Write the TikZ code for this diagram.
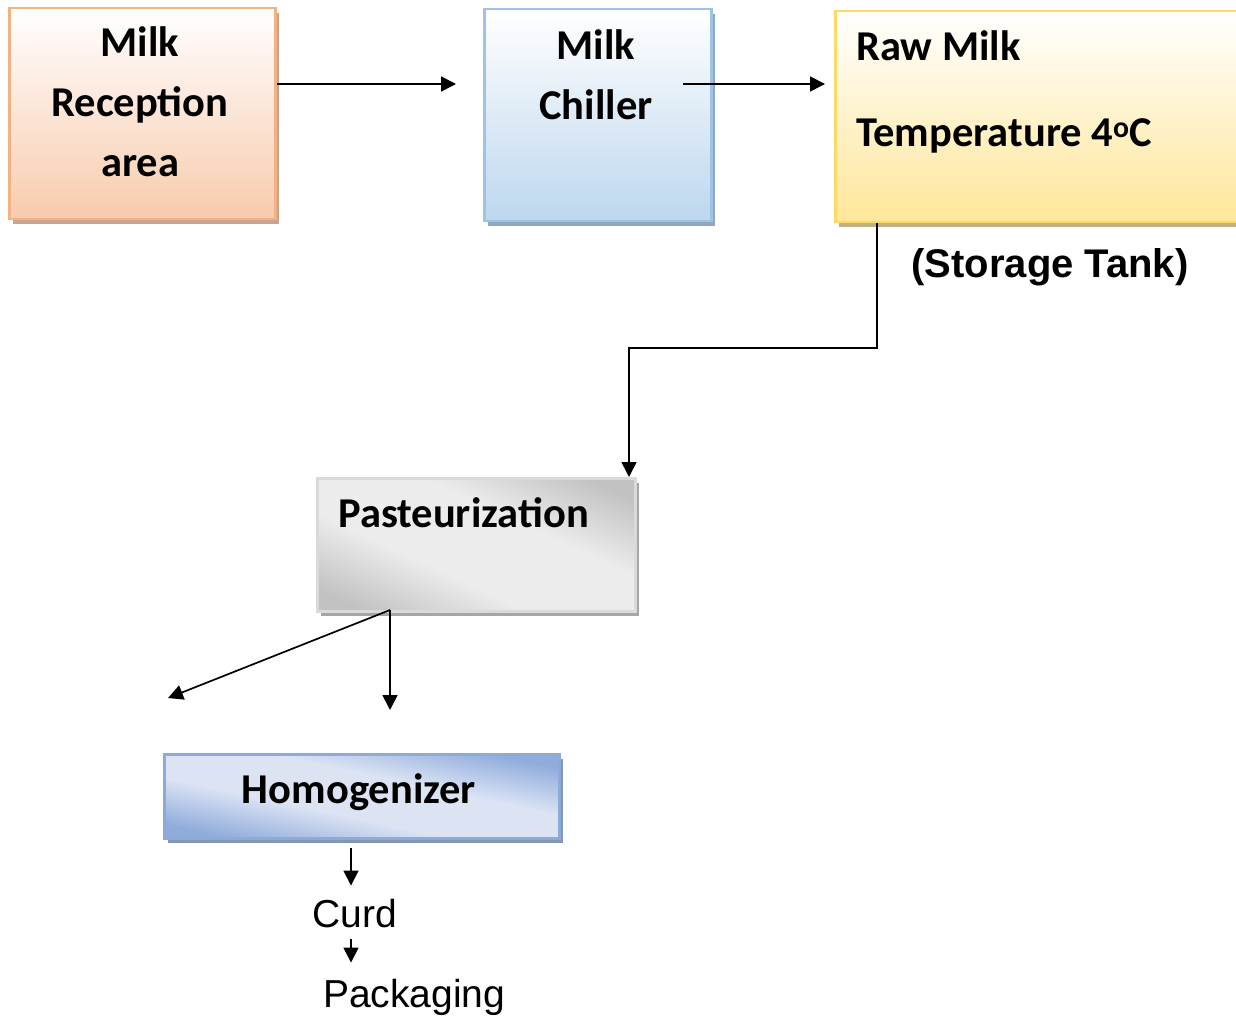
\documentclass[tikz,border=0pt]{standalone}
\usepackage{fontspec}
\usetikzlibrary{arrows.meta,calc,shadows}
\newfontfamily\calib{Carlito}
\newfontfamily\arialf{Liberation Sans}
\definecolor{bordeNaranja}{HTML}{F4B183}
\definecolor{fondoNaranja}{HTML}{F8CBAD}
\definecolor{sombraNaranja}{HTML}{C8A48B}
\definecolor{bordeAzul}{HTML}{9DC3E6}
\definecolor{fondoAzul}{HTML}{BDD7EE}
\definecolor{sombraAzul}{HTML}{8EA8C1}
\definecolor{bordeAmarillo}{HTML}{FFD966}
\definecolor{fondoAmarillo}{HTML}{FFE699}
\definecolor{sombraAmarillo}{HTML}{C0B181}
\definecolor{bordeGris}{HTML}{DADADA}
\definecolor{oscuroGris}{HTML}{C2C2C2}
\definecolor{claroGris}{HTML}{ECECEC}
\definecolor{sombraGris}{HTML}{A6A6A6}
\definecolor{bordeHomog}{HTML}{8EAADB}
\definecolor{oscuroHomog}{HTML}{90ACDC}
\definecolor{claroHomog}{HTML}{DCE4F4}
\definecolor{sombraHomog}{HTML}{8497B0}
% Degradados diagonales
\pgfdeclareverticalshading{degradadoGris}{100bp}{color(0bp)=(oscuroGris); color(22bp)=(oscuroGris); color(40bp)=(claroGris); color(60bp)=(claroGris); color(78bp)=(oscuroGris); color(100bp)=(oscuroGris)}
\pgfdeclareverticalshading{degradadoHomog}{100bp}{color(0bp)=(oscuroHomog); color(25bp)=(oscuroHomog); color(42bp)=(claroHomog); color(58bp)=(claroHomog); color(75bp)=(oscuroHomog); color(100bp)=(oscuroHomog)}

\begin{document}
\begin{tikzpicture}[x=1pt,y=-1pt,
    caja/.style={draw, line width=2.5pt, inner sep=0pt, anchor=north west},
    texto/.style={font=\calib\bfseries\fontsize{42.5}{60}\selectfont, inner sep=0pt},
    flecha/.style={line width=1.7pt, -{Triangle[length=15pt,width=15pt]}}]
    \useasboundingbox (0,0) rectangle (1236,1016);
    % Caja de recepcion de leche
    \node[caja, draw=bordeNaranja, top color=white, bottom color=fondoNaranja,
      drop shadow={shadow xshift=4pt, shadow yshift=-5pt, fill=sombraNaranja, opacity=1},
      minimum width=266, minimum height=211] (recep) at (8,7) {};
    \node[texto, align=center, anchor=base] (recepT) at (140,177) {Milk\\Reception\\area};
    % Caja del enfriador
    \node[caja, draw=bordeAzul, top color=white, bottom color=fondoAzul,
      drop shadow={shadow xshift=4pt, shadow yshift=-5pt, fill=sombraAzul, opacity=1},
      minimum width=227, minimum height=212] (chiller) at (483,8) {};
    \node[texto, align=center, anchor=base] (chillerT) at (596,120) {Milk\\Chiller};
    % Tanque de leche cruda
    \node[caja, draw=bordeAmarillo, top color=white, bottom color=fondoAmarillo,
      drop shadow={shadow xshift=4pt, shadow yshift=-5pt, fill=sombraAmarillo, opacity=1},
      minimum width=420, minimum height=211] (raw) at (834,10) {};
    \node[texto, align=left, anchor=base west] (rawT) at (856,147) {Raw Milk\\[26pt]Temperature 4\textsuperscript{o}C};
    \node[font=\arialf\bfseries\fontsize{40}{48}\selectfont, inner sep=0pt, anchor=base] (tank) at (1050,277) {(Storage Tank)};
    % Pasteurizacion
    \node[caja, draw=bordeGris, shading=degradadoGris, shading angle=-25,
      drop shadow={shadow xshift=4pt, shadow yshift=-5pt, fill=sombraGris, opacity=1},
      minimum width=318, minimum height=133] (past) at (316,477) {};
    \node[texto, anchor=base west] (pastT) at (338,527) {Pasteurization};
    % Homogeneizador
    \node[caja, draw=bordeHomog, shading=degradadoHomog, shading angle=-12,
      drop shadow={shadow xshift=4pt, shadow yshift=-5pt, fill=sombraHomog, opacity=1},
      minimum width=395, minimum height=84] (homog) at (163,753) {};
    \node[texto, anchor=base] (homogT) at (359,803) {Homogenizer};
    % Cuajada y envasado
    \node[font=\arialf\fontsize{39}{47}\selectfont, inner sep=0pt, anchor=base west] (curd) at (312,927) {Curd};
    \node[font=\arialf\fontsize{39}{47}\selectfont, inner sep=0pt, anchor=base west] (pack) at (323,1007) {Packaging};
    % Puntos libres de las flechas
    \coordinate (a1) at (456,84);
    \coordinate (b0) at (683,84);
    \coordinate (b1) at (825,84);
    \coordinate (codo) at (629,348);
    \coordinate (salida) at (390,610);
    \coordinate (izq) at (168,698);
    \coordinate (abajo) at (390,710);
    % Flechas
    \draw[flecha] (recep.east |- a1) -- (a1);
    \draw[flecha] (b0) -- (b1);
    \draw[flecha] ($(raw.south west)+(43,0)$) |- (codo) -- (past.north -| codo);
    \draw[flecha] (salida) -- (izq);
    \draw[flecha] (salida) -- (abajo);
    \draw[flecha] ($(homog.south -| 351,0)+(0,8)$) -- ($(curd.north -| 351,0)+(0,-13)$);
    \draw[flecha] ($(curd.south -| 351,0)+(0,11)$) -- ($(pack.north -| 351,0)+(0,-16)$);
\end{tikzpicture}
\end{document}
